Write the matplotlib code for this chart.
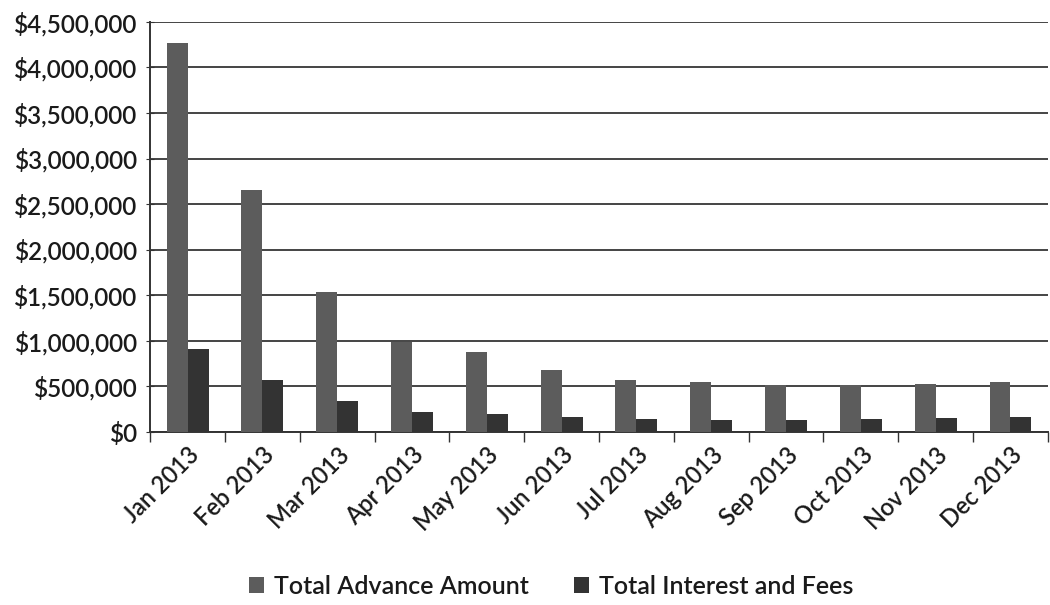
import numpy as np
import matplotlib
matplotlib.use('Agg')
import matplotlib.pyplot as plt
from matplotlib.ticker import FuncFormatter, MultipleLocator

# monthly totals for 2013
months = ['Jan 2013', 'Feb 2013', 'Mar 2013', 'Apr 2013', 'May 2013', 'Jun 2013',
          'Jul 2013', 'Aug 2013', 'Sep 2013', 'Oct 2013', 'Nov 2013', 'Dec 2013']
advance = [4270000, 2660000, 1540000, 990000, 880000, 680000,
           570000, 550000, 510000, 510000, 530000, 550000]
interest_fees = [910000, 570000, 340000, 220000, 200000, 160000,
                 140000, 130000, 130000, 140000, 150000, 160000]

plt.rcParams['font.family'] = ['Lato', 'DejaVu Sans']
plt.rcParams['font.weight'] = 'semibold'
plt.rcParams['text.color'] = '#1a1a1a'
plt.rcParams['xtick.color'] = '#1a1a1a'
plt.rcParams['ytick.color'] = '#1a1a1a'

fig = plt.figure(figsize=(10.5, 6.05), dpi=100)
ax = fig.add_axes([0.143, 0.286, 0.855, 0.678])

x = np.arange(len(months))
w = 0.28
ax.bar(x - w / 2, advance, w, color='#5c5c5c', label='Total Advance Amount', zorder=3)
ax.bar(x + w / 2, interest_fees, w, color='#333333', label='Total Interest and Fees', zorder=3)

ax.set_ylim(0, 4500000)
ax.set_xlim(-0.5, len(months) - 0.5)
ax.yaxis.set_major_locator(MultipleLocator(500000))
ax.yaxis.set_major_formatter(FuncFormatter(lambda v, p: '${:,.0f}'.format(v)))
ax.grid(axis='y', color='#444444', linewidth=1.4, zorder=0)

ax.set_xticks(x)
ax.set_xticklabels(months, rotation=45, ha='right', rotation_mode='anchor', fontsize=17)
ax.tick_params(axis='x', length=0, pad=8)
ax.set_xticks(np.arange(-0.5, len(months)), minor=True)
ax.tick_params(axis='x', which='minor', length=7, width=1, color='#333333')
ax.tick_params(axis='y', labelsize=17.5, length=6, direction='inout', color='#333333', pad=6)

for s in ['top', 'right']:
    ax.spines[s].set_visible(False)
for s in ['left', 'bottom']:
    ax.spines[s].set_color('#333333')
    ax.spines[s].set_linewidth(1.4)

fig.legend(loc='lower center', bbox_to_anchor=(0.525, -0.025), ncol=2, frameon=False,
           fontsize=18, handlelength=0.6, handleheight=0.6, columnspacing=1.8, handletextpad=0.4)

fig.savefig('out.png', dpi=100)
